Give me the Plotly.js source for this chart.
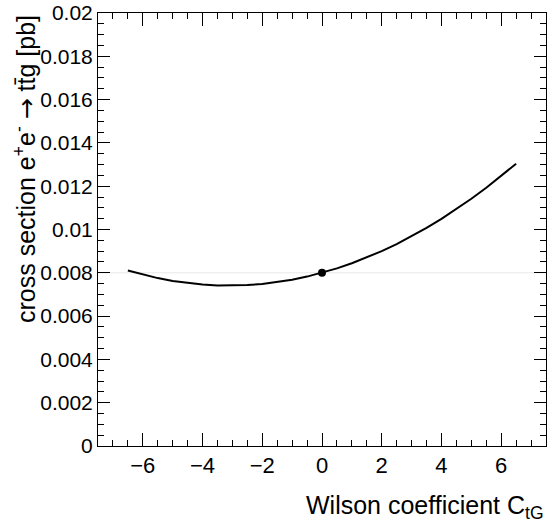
<!DOCTYPE html>
<html>
<head>
<meta charset="utf-8">
<script src="https://cdn.plot.ly/plotly-3.0.1.min.js"></script>
<style>
  html, body { margin: 0; padding: 0; background: #fff; }
  #chart { width: 547px; height: 523px; }
</style>
</head>
<body>
<div id="chart"></div>
<script>
// Wilson coefficient C_tG values and cross sections
const cTG = [-6.5, -6.0, -5.5, -5.0, -4.5, -4.0, -3.5, -3.0, -2.5, -2.0, -1.5, -1.0, -0.5, 0.0,
             0.5, 1.0, 1.5, 2.0, 2.5, 3.0, 3.5, 4.0, 4.5, 5.0, 5.5, 6.0, 6.5];
const xsec = [0.008106, 0.007915, 0.007755, 0.007625, 0.007525, 0.007456, 0.007418, 0.007410,
              0.007432, 0.007485, 0.007568, 0.007681, 0.007825, 0.008000, 0.008205, 0.008440,
              0.008706, 0.009003, 0.009329, 0.009687, 0.010074, 0.010492, 0.010941, 0.011420,
              0.011930, 0.012469, 0.013040];
// Standard Model point
const smX = [0];
const smY = [0.008];
// faint reference line at SM cross section
const refX = [-7.5, 7.5];
const refY = [0.008, 0.008];

const xRange = [-7.5, 7.5];
const yRange = [0, 0.02];
const xTickVals = [-6, -4, -2, 0, 2, 4, 6];
const xTickText = ['\u22126', '\u22124', '\u22122', '0', '2', '4', '6'];
const yTickVals = [0, 0.002, 0.004, 0.006, 0.008, 0.01, 0.012, 0.014, 0.016, 0.018, 0.02];
const yTickText = ['0', '0.002', '0.004', '0.006', '0.008', '0.01', '0.012', '0.014', '0.016', '0.018', '0.02'];

const xTitle = 'Wilson coefficient C<sub>tG</sub>';
const yTitle = 'cross section e<sup>+</sup>e<sup>-</sup> <span style="font-family:\'DejaVu Sans\'">\u2192</span> tt\u0304g [pb]';

const FONT = '"Liberation Sans", Arial, Helvetica, sans-serif';

const traces = [
  { x: refX, y: refY, type: 'scatter', mode: 'lines',
    line: { color: '#e8e8e8', width: 1 }, hoverinfo: 'skip', showlegend: false },
  { x: cTG, y: xsec, type: 'scatter', mode: 'lines',
    line: { color: '#000', width: 2 }, showlegend: false },
  { x: smX, y: smY, type: 'scatter', mode: 'markers',
    marker: { color: '#000', size: 8 }, showlegend: false }
];

const axisCommon = {
  showline: true, linecolor: '#000', linewidth: 1, mirror: 'allticks',
  ticks: 'inside', tickcolor: '#000', tickwidth: 1,
  showgrid: false, zeroline: false, fixedrange: true
};

const layout = {
  width: 547, height: 523,
  margin: { l: 98, r: 1, t: 13, b: 77, pad: 0 },
  paper_bgcolor: '#fff', plot_bgcolor: '#fff',
  font: { family: FONT, color: '#000' },
  showlegend: false,
  xaxis: Object.assign({}, axisCommon, {
    range: xRange, tickmode: 'array', tickvals: xTickVals, ticktext: xTickText,
    ticklen: 13,
    tickfont: { family: FONT, size: 22, color: '#000' },
    minor: { dtick: 0.5, tick0: 0, ticks: 'inside', ticklen: 6, tickcolor: '#000', tickwidth: 1, showgrid: false }
  }),
  yaxis: Object.assign({}, axisCommon, {
    range: yRange, tickmode: 'array', tickvals: yTickVals, ticktext: yTickText,
    ticklen: 12,
    tickfont: { family: FONT, size: 21, color: '#000' },
    minor: { dtick: 0.0005, tick0: 0, ticks: 'inside', ticklen: 6, tickcolor: '#000', tickwidth: 1, showgrid: false }
  }),
  annotations: [
    { text: xTitle, xref: 'paper', yref: 'paper', x: 1, xanchor: 'right',
      y: -0.099, yanchor: 'top', showarrow: false,
      font: { family: FONT, size: 25, color: '#000' } },
    { text: yTitle, xref: 'paper', yref: 'paper', x: -0.163, xanchor: 'center',
      y: 1, yanchor: 'top', textangle: -90, showarrow: false,
      font: { family: FONT, size: 25, color: '#000' } }
  ]
};

Plotly.newPlot('chart', traces, layout, { staticPlot: true, displayModeBar: false });
</script>
</body>
</html>
